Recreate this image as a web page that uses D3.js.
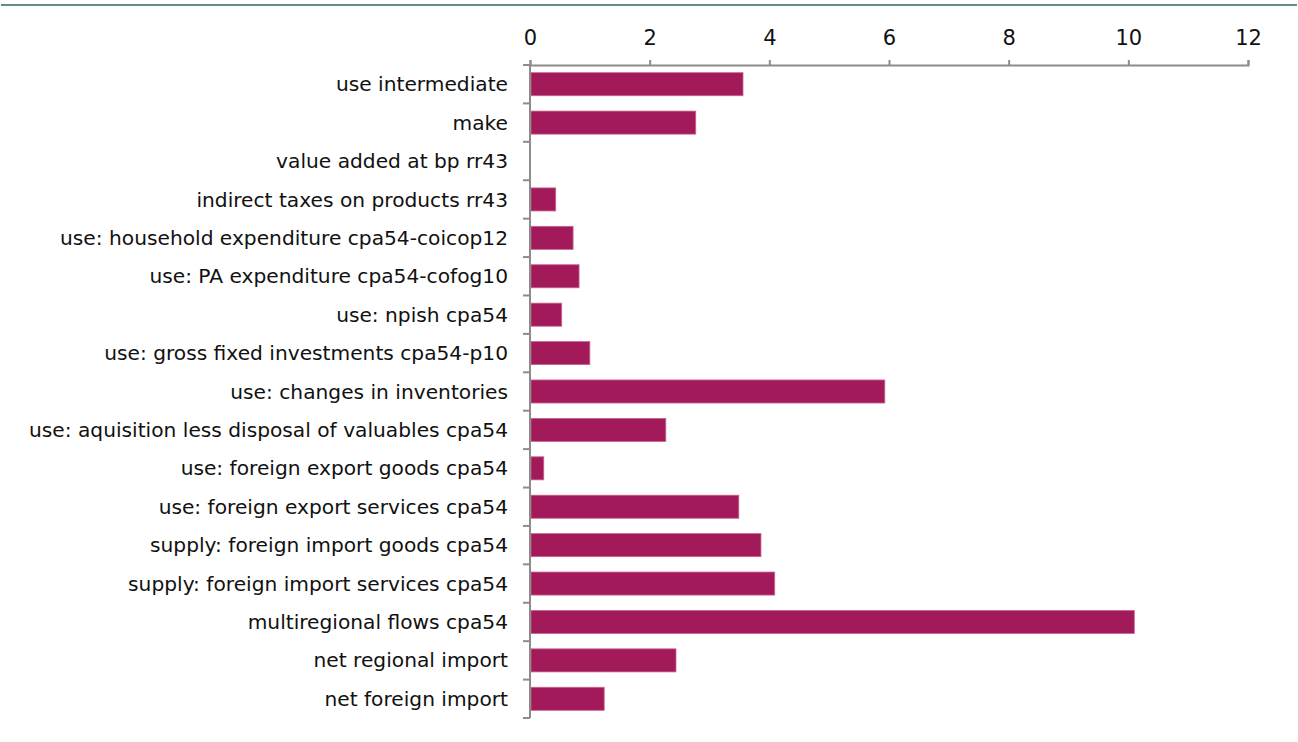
<!DOCTYPE html>
<html>
<head>
<meta charset="utf-8">
<script src="https://cdnjs.cloudflare.com/ajax/libs/d3/7.8.5/d3.min.js"></script>
<style>
  body { margin: 0; background: #fff; }
  svg text { font-family: "DejaVu Sans", sans-serif; fill: #111; }
</style>
</head>
<body>
<div id="chart"></div>
<script>
var categories = [
  "use intermediate",
  "make",
  "value added at bp rr43",
  "indirect taxes on products rr43",
  "use: household expenditure cpa54-coicop12",
  "use: PA expenditure cpa54-cofog10",
  "use: npish cpa54",
  "use: gross fixed investments cpa54-p10",
  "use: changes in inventories",
  "use: aquisition less disposal of valuables cpa54",
  "use: foreign export goods cpa54",
  "use: foreign export services cpa54",
  "supply: foreign import goods cpa54",
  "supply: foreign import services cpa54",
  "multiregional flows cpa54",
  "net regional import",
  "net foreign import"
];
var values = [3.56, 2.77, 0, 0.43, 0.72, 0.82, 0.53, 1.0, 5.93, 2.27, 0.23, 3.49, 3.86, 4.09, 10.1, 2.44, 1.24];
var xTicks = [0, 2, 4, 6, 8, 10, 12];

var width = 1298, height = 742;
var plotLeft = 530, plotRight = 1248, plotTop = 65, plotBottom = 718;

var svg = d3.select("#chart").append("svg")
    .attr("width", width)
    .attr("height", height);

// rule at the very top
svg.append("rect")
    .attr("x", 1).attr("y", 4)
    .attr("width", width - 2).attr("height", 2)
    .attr("fill", "#658a8a");

var x = d3.scaleLinear().domain([0, 12]).range([plotLeft, plotRight]);
var y = d3.scaleBand().domain(categories).range([plotTop, plotBottom]).paddingInner(0.4).paddingOuter(0.2);

var data = categories.map(function(c, i) { return {name: c, value: values[i]}; });

svg.append("g")
  .selectAll("rect")
  .data(data)
  .enter().append("rect")
    .attr("x", x(0) + 1)
    .attr("y", function(d) { return y(d.name); })
    .attr("width", function(d) { return Math.max(0, x(d.value) - x(0) - 1); })
    .attr("height", y.bandwidth())
    .attr("fill", "#a31a5a")
    .attr("stroke", function(d) { return d.value > 0 ? "#c9638f" : "none"; })
    .attr("stroke-width", 0.8);

// top axis
var xAxis = d3.axisTop(x).tickValues(xTicks).tickSize(5).tickPadding(15).tickFormat(d3.format("d"));
var gx = svg.append("g")
    .attr("transform", "translate(0," + plotTop + ")")
    .call(xAxis);
gx.select(".domain").attr("stroke", "#8c8c8c").attr("stroke-width", 2);
gx.selectAll(".tick line").attr("stroke", "#8c8c8c").attr("stroke-width", 2);
gx.selectAll(".tick text").attr("font-size", 21).attr("font-family", "DejaVu Sans, sans-serif").attr("fill", "#111");

// vertical axis with ticks between categories
var boundaries = d3.range(categories.length + 1).map(function(i) { return plotTop + i * (plotBottom - plotTop) / categories.length; });
var gy = svg.append("g");
gy.append("line")
    .attr("x1", plotLeft).attr("x2", plotLeft)
    .attr("y1", plotTop).attr("y2", plotBottom)
    .attr("stroke", "#8c8c8c").attr("stroke-width", 2);
gy.selectAll("line.tk")
  .data(boundaries)
  .enter().append("line")
    .attr("class", "tk")
    .attr("x1", plotLeft - 7).attr("x2", plotLeft)
    .attr("y1", function(d) { return d; })
    .attr("y2", function(d) { return d; })
    .attr("stroke", "#8c8c8c").attr("stroke-width", 2);

svg.append("g")
  .selectAll("text")
  .data(categories)
  .enter().append("text")
    .attr("x", 508)
    .attr("y", function(d) { return y(d) + y.bandwidth() / 2; })
    .attr("dy", "0.35em")
    .attr("text-anchor", "end")
    .attr("font-size", 20.2)
    .text(function(d) { return d; });
</script>
</body>
</html>
